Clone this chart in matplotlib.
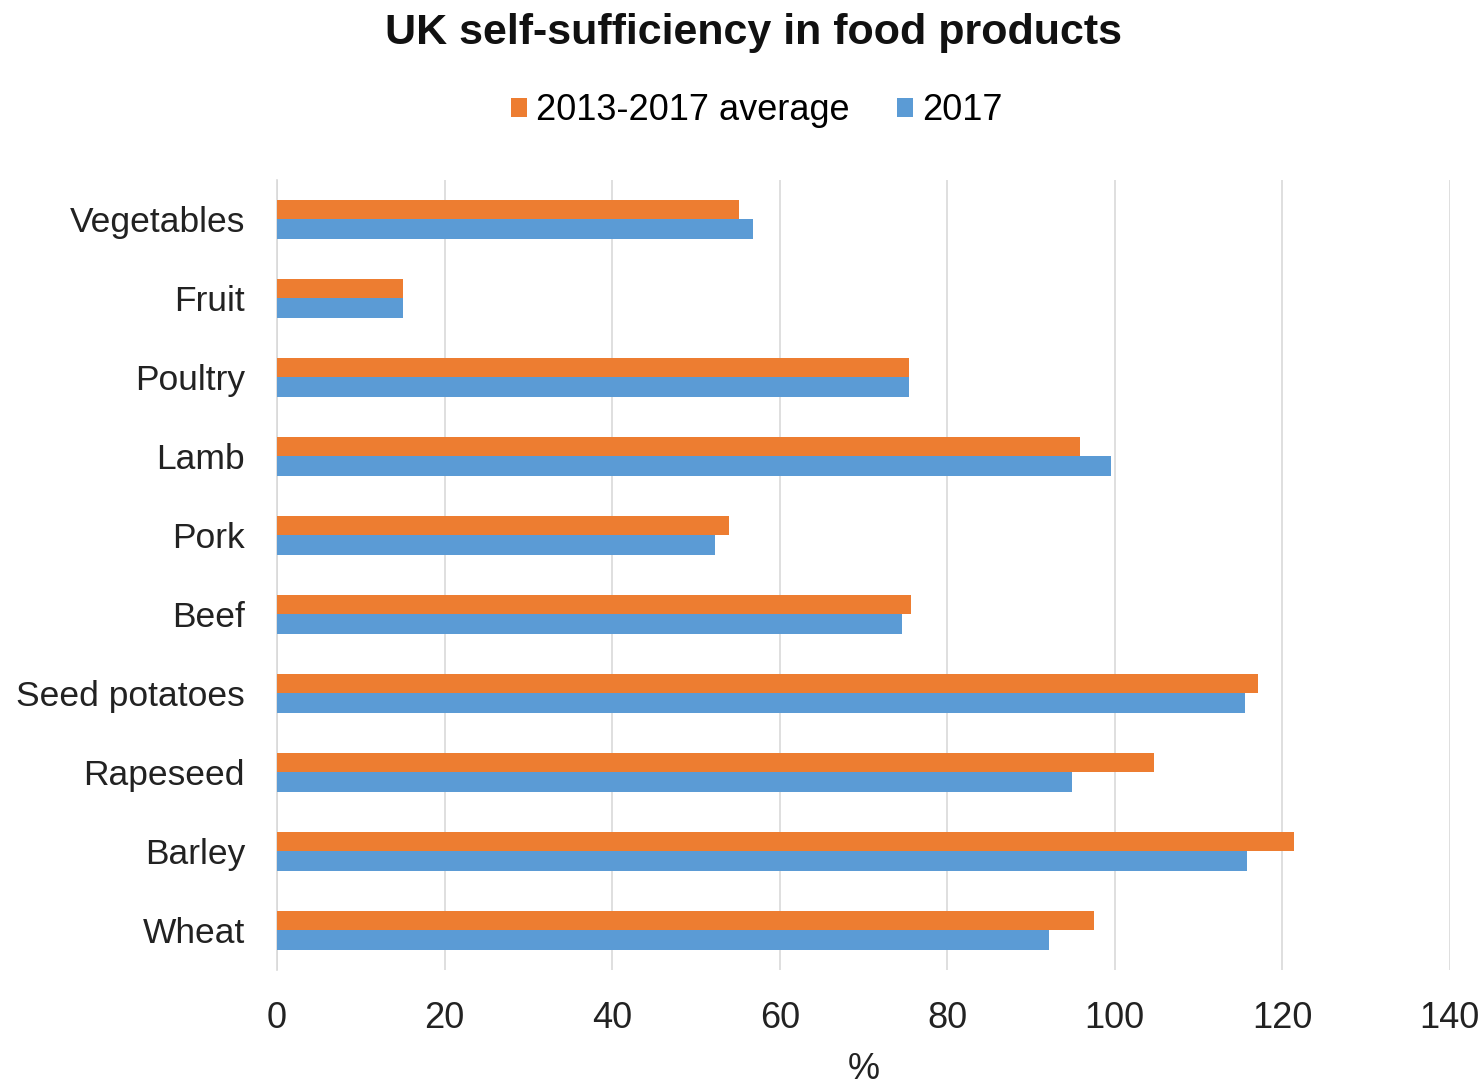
import numpy as np
import matplotlib
matplotlib.use("Agg")
import matplotlib.pyplot as plt

categories = ["Vegetables", "Fruit", "Poultry", "Lamb", "Pork", "Beef",
              "Seed potatoes", "Rapeseed", "Barley", "Wheat"]
avg_2013_2017 = [55.2, 15.0, 75.4, 95.8, 53.9, 75.7, 117.1, 104.7, 121.4, 97.5]
year_2017 = [56.8, 15.0, 75.4, 99.5, 52.3, 74.6, 115.5, 94.9, 115.8, 92.1]
x_ticks = [0, 20, 40, 60, 80, 100, 120, 140]

plt.rcParams['font.family'] = ['Liberation Sans Narrow', 'Liberation Sans', 'DejaVu Sans']

orange = "#ED7D31"
blue = "#5B9BD5"

fig = plt.figure(figsize=(14.84, 10.88), dpi=100)
ax = fig.add_axes([0.1867, 0.1085, 0.7903, 0.7261])

y = np.arange(len(categories))
h = 0.25
ax.barh(y - h / 2, avg_2013_2017, height=h, color=orange, label="2013-2017 average", zorder=3)
ax.barh(y + h / 2, year_2017, height=h, color=blue, label="2017", zorder=3)

ax.set_ylim(len(categories) - 0.5, -0.5)
ax.set_xlim(0, 140)
ax.set_xticks(x_ticks)
ax.set_xticklabels([str(t) for t in x_ticks], fontsize=26, color="#222222")
ax.set_yticks(y)
ax.set_yticklabels(categories, fontsize=25.5, color="#222222")
ax.tick_params(axis="both", length=0)
ax.tick_params(axis="x", pad=22)
ax.tick_params(axis="y", pad=23)

ax.grid(axis="x", color="#d9d9d9", linewidth=1.2, zorder=0)
for s in ["top", "right", "bottom"]:
    ax.spines[s].set_visible(False)
ax.spines["left"].set_color("#d9d9d9")
ax.spines["left"].set_linewidth(1.2)

ax.set_xlabel("%", fontsize=26, color="#222222", labelpad=12)

fig.text(0.508, 0.988, "UK self-sufficiency in food products", ha="center", va="top",
         fontsize=31, fontweight="bold", family=["Liberation Sans", "DejaVu Sans"], color="#111111")

fig.legend(loc="center", bbox_to_anchor=(0.51, 0.898), ncol=2, frameon=False,
           fontsize=26, handlelength=0.45, handleheight=0.45, handletextpad=0.25,
           columnspacing=1.3)

fig.savefig("out.png", dpi=100)
